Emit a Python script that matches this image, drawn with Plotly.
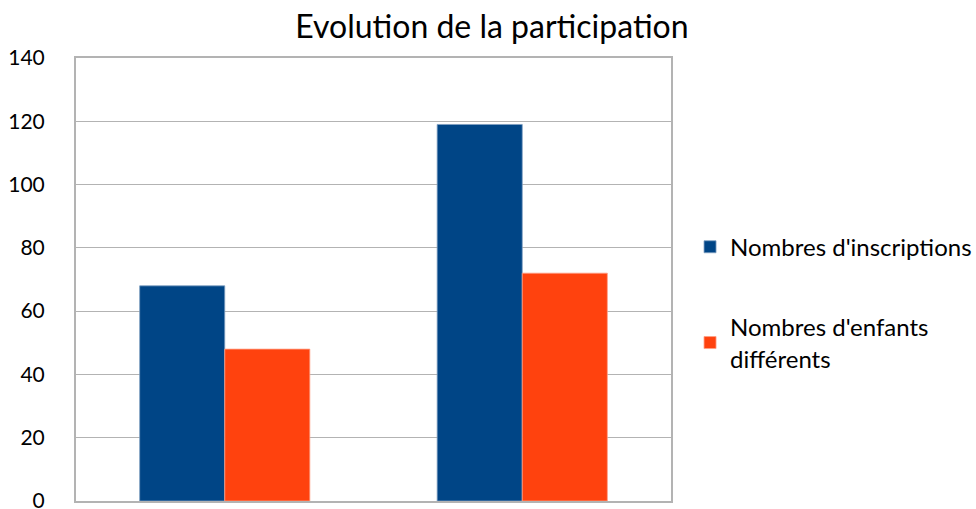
import plotly.graph_objects as go

categories = ["A", "B"]
series_names = ["Nombres d'inscriptions", "Nombres d'enfants<br>différents"]
inscriptions = [68, 119]
enfants = [48, 72]
colors = ["#004586", "#FF420E"]
title_text = "Evolution de la participation"
y_ticks = [0, 20, 40, 60, 80, 100, 120, 140]

FONT = "Lato"
fig = go.Figure()
fig.add_trace(go.Bar(x=categories, y=inscriptions, name=series_names[0],
                     marker=dict(color=colors[0], line=dict(color="#7f9fc2", width=0.8)),
                     legend="legend"))
fig.add_trace(go.Bar(x=categories, y=enfants, name=series_names[1],
                     marker=dict(color=colors[1], line=dict(color="#ff9f86", width=0.8)),
                     legend="legend2"))

fig.update_layout(
    width=976, height=509,
    margin=dict(l=76, r=305, t=58, b=8, autoexpand=False),
    paper_bgcolor="white", plot_bgcolor="white",
    font=dict(family=FONT, color="#000000", size=21),
    title=dict(text=title_text, x=0.504, xref="container", xanchor="center",
               y=0.947, yref="container", yanchor="middle",
               font=dict(size=32, family=FONT, color="#000000")),
    barmode="group", bargap=0.428, bargroupgap=0,
    showlegend=True,
    legend=dict(x=0.707, xref="container", xanchor="left", y=0.573, yanchor="middle",
                font=dict(size=24, family=FONT), bgcolor="rgba(0,0,0,0)"),
    legend2=dict(x=0.707, xref="container", xanchor="left", y=0.357, yanchor="middle",
                 font=dict(size=24, family=FONT), bgcolor="rgba(0,0,0,0)"),
)
fig.update_xaxes(showticklabels=False, showgrid=False, showline=True,
                 linecolor="#b3b3b3", linewidth=2, mirror=True, ticks="")
fig.update_yaxes(range=[0, 140], tickvals=y_ticks, showgrid=True, gridcolor="#b3b3b3",
                 gridwidth=1.3, showline=True, linecolor="#b3b3b3", linewidth=2,
                 mirror=True, zeroline=False, ticks="", ticklabelstandoff=25,
                 ticklabeloverflow="allow",
                 tickfont=dict(size=21, family=FONT))

fig.write_html("out.html", config={"displayModeBar": False},
               post_script="document.body.style.margin='0px';")
